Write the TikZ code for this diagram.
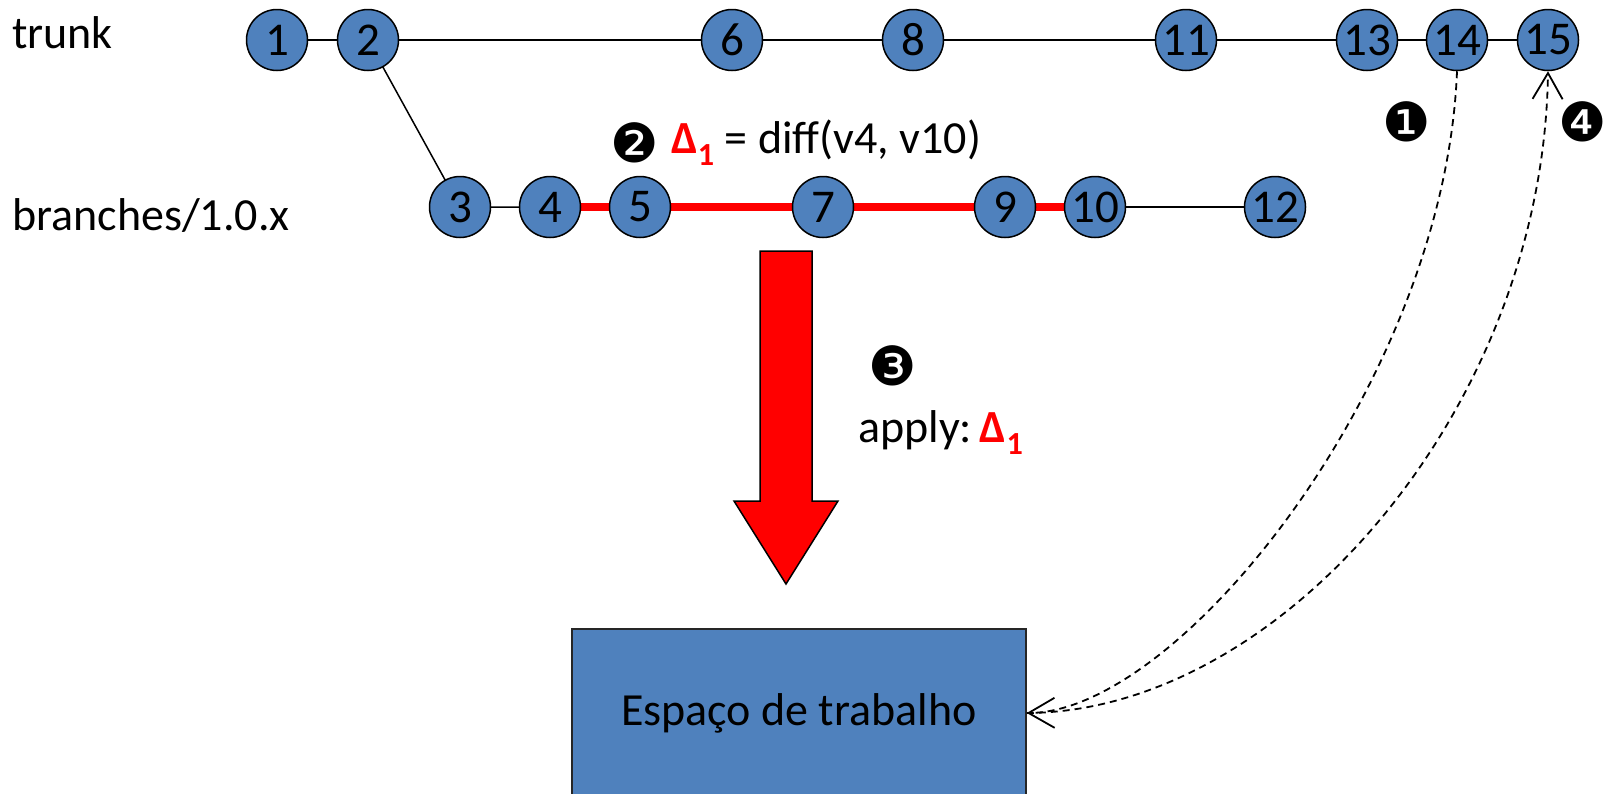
\documentclass[tikz,border=0pt]{standalone}
\usepackage{fontspec}
\setmainfont{Carlito}
\newfontfamily\dingfont{DejaVu Sans}
\usetikzlibrary{arrows.meta,backgrounds}
\definecolor{nodeblue}{HTML}{4F81BD}
\begin{document}
\begin{tikzpicture}[x=1pt,y=-1pt,
  commit/.style={circle,draw=black,line width=1.5pt,fill=nodeblue,
    minimum size=61pt,inner sep=0pt,font=\fontsize{47}{50}\selectfont},
  link/.style={line width=1.5pt},
  delta/.style={red,line width=8pt},
  lbl/.style={font=\fontsize{46}{50}\selectfont,inner sep=0pt},
  stepno/.style={font=\dingfont\fontsize{54}{54}\selectfont,inner sep=0pt},
  flow/.style={line width=1.8pt,dash pattern=on 7pt off 5pt,
    -{Straight Barb[length=26pt,width=30pt]}},
  workspace/.style={draw=black!85,line width=1.5pt,fill=nodeblue,
    minimum width=454pt,minimum height=168pt,inner sep=0pt,
    font=\fontsize{46}{50}\selectfont}
]
\useasboundingbox (0,0) rectangle (1604,793);
\clip (0,0) rectangle (1604,793);

% line labels
\node[lbl,anchor=base west] (trunk) at (12,48) {trunk};
\node[lbl,anchor=base west] (branch) at (12,230) {branches/1.0.x};

% trunk revisions
\foreach \n/\x in {1/277,2/368,6/732,8/913,11/1186,13/1367,14/1457,15/1548}
  \node[commit] (n\n) at (\x,40) {\n};
% branch revisions
\foreach \n/\x in {3/460,4/550,5/640,7/823,9/1005,10/1095,12/1275}
  \node[commit] (n\n) at (\x,207) {\n};

\begin{scope}[on background layer]
  \fill[white] (0,0) rectangle (1604,793);
  \draw[link] (n1.center) -- (n2.center) -- (n6.center) -- (n8.center)
    -- (n11.center) -- (n13.center) -- (n14.center) -- (n15.center);
  \draw[link] (n2.center) -- (n3.center) -- (n4.center);
  \draw[link] (n10.center) -- (n12.center);
  \draw[delta] (n4.center) -- (n5.center) -- (n7.center) -- (n9.center) -- (n10.center);
\end{scope}

% diff annotation
\node[stepno] (s2) at (635,143) {❷};
\node[lbl,anchor=base west] (diff) at (671,153)
  {\textcolor{red}{\bfseries Δ\textsubscript{1}} = diff(v4, v10)};

% merge arrow
\draw[fill=red,line width=1.5pt] (760,251) -- (812,251) -- (812,501) -- (838,501)
  -- (786,584) -- (734,501) -- (760,501) -- cycle;
\node[stepno] (s3) at (893,366) {❸};
\node[lbl,anchor=base west] (apply) at (858,442)
  {apply:\,\textcolor{red}{\bfseries Δ\textsubscript{1}}};

% working copy
\node[workspace] (ws) at (799,713) {Espaço de trabalho};

% checkout and commit
\node[stepno] (s1) at (1407,122) {❶};
\node[stepno] (s4) at (1583,122) {❹};
\draw[flow] (n14.south) .. controls (1445,380) and (1180,712) .. (ws.east);
\draw[flow] (ws.east) .. controls (1280,712) and (1543,410) .. (n15.south);
\end{tikzpicture}
\end{document}
